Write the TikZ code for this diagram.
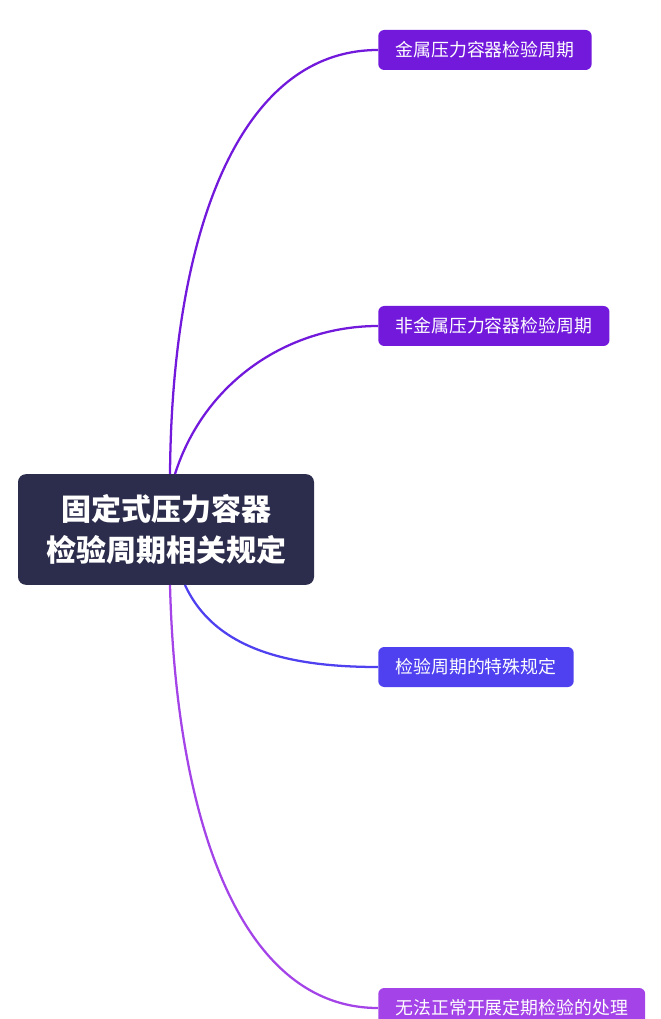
\documentclass[tikz,border=0pt]{standalone}
\usepackage{fontspec}
\newfontfamily\cjk{Noto Sans CJK SC}
\usetikzlibrary{calc}

\definecolor{rootcol}{HTML}{2C2C4C}
\definecolor{violet1}{HTML}{7219DC}
\definecolor{blue1}{HTML}{4F40F0}
\definecolor{lilac1}{HTML}{A444E8}

\tikzset{
  topic/.style={fill=#1, text=white, rounded corners=4.5pt, anchor=west,
    minimum height=30pt, inner xsep=13pt, font=\cjk\fontsize{13.4}{15}\selectfont},
  link/.style={line width=1.7pt, #1}
}

\begin{document}
\begin{tikzpicture}[x=0.75pt, y=-0.75pt]
\clip (0,0) rectangle (660,1019);
\useasboundingbox (0,0) rectangle (660,1019);

% Root
\node[fill=rootcol, rounded corners=6pt, minimum width=222pt, minimum height=83pt,
  text=white, align=center, font=\cjk\bfseries\fontsize{22.5}{31}\selectfont]
  (root) at (166,529.5) {固定式压力容器\hspace{9pt}\\检验周期相关规定};

% Topics
\node[topic=violet1] (metal) at (378,50) {金属压力容器检验周期};
\node[topic=violet1] (nonmetal) at (378,326) {非金属压力容器检验周期};
\node[topic=blue1] (special) at (378,667) {检验周期的特殊规定};
\node[topic=lilac1] (handle) at (378,1008) {无法正常开展定期检验的处理};

% Links
\draw[link=violet1] (170,474) .. controls (172,230) and (240,50) .. (metal.west);
\draw[link=violet1] (175,474) .. controls (205,380) and (290,326) .. (nonmetal.west);
\draw[link=blue1] (185,585) .. controls (215,650) and (290,667) .. (special.west);
\draw[link=lilac1] (170,585) .. controls (176,820) and (240,1008) .. (handle.west);

\end{tikzpicture}
\end{document}
